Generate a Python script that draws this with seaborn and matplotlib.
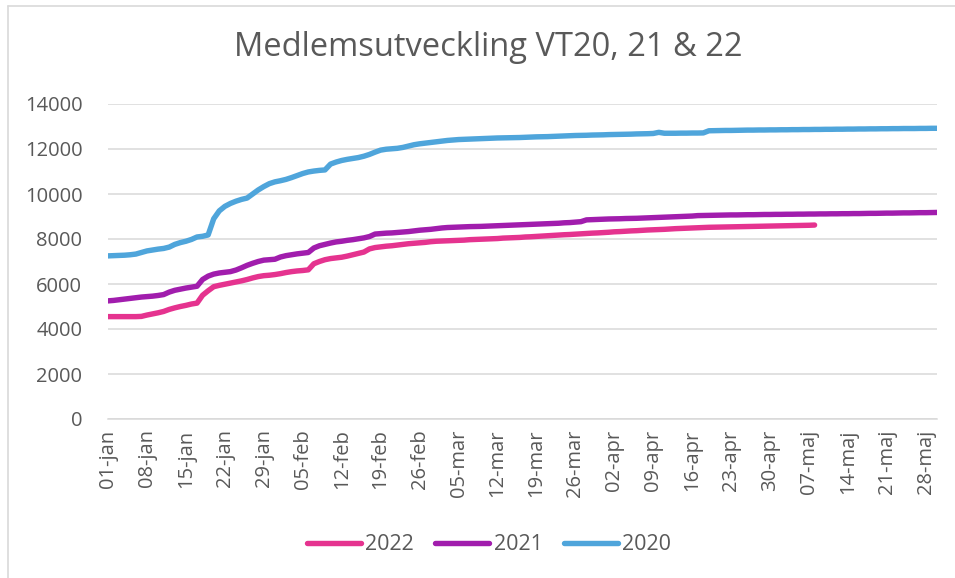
import matplotlib
matplotlib.use("Agg")
import matplotlib.pyplot as plt
import seaborn as sns
import pandas as pd
import numpy as np
from matplotlib.lines import Line2D

# ---------------- data ----------------
months = ["jan", "feb", "mar", "apr", "maj"]
month_days = [31, 28, 31, 30, 30]
dates = [f"{d:02d}-{m}" for m, n in zip(months, month_days) for d in range(1, n + 1)]

v2020 = [7250, 7260, 7270, 7280, 7300, 7330, 7400, 7470, 7510, 7550,
         7580, 7640, 7760, 7840, 7900, 7980, 8090, 8120, 8180, 8900,
         9250, 9450, 9580, 9680, 9760, 9820, 10000, 10180, 10330, 10460,
         10540, 10590, 10650, 10730, 10820, 10910, 10980, 11020, 11050, 11070,
         11330, 11420, 11490, 11540, 11580, 11620, 11680, 11760, 11860, 11950,
         11990, 12010, 12030, 12070, 12130, 12190, 12230, 12260, 12290, 12320,
         12350, 12380, 12400, 12420, 12430, 12440, 12450, 12460,
         12470, 12480, 12490, 12495, 12500, 12505, 12510, 12520, 12530, 12540, 12545, 12550,
         12560, 12570, 12580, 12590, 12600, 12605, 12610, 12620, 12625, 12630,
         12640, 12645, 12650, 12655, 12660, 12670, 12675, 12680, 12690,
         12740, 12700, 12700, 12700, 12705, 12705, 12710, 12710, 12715,
         12810, 12815, 12820, 12825, 12825, 12830, 12835, 12840, 12840, 12845,
         12845, 12850, 12850, 12855, 12855, 12860, 12860, 12865, 12865, 12870,
         12870, 12875, 12875, 12880, 12880, 12885, 12885, 12890, 12890, 12895,
         12895, 12900, 12900, 12905, 12905, 12910, 12910, 12910, 12915, 12915,
         12920, 12920]

v2021 = [5250, 5270, 5300, 5330, 5360, 5390, 5420, 5440, 5460, 5490,
         5530, 5640, 5720, 5770, 5820, 5860, 5900, 6200, 6350, 6440,
         6490, 6520, 6550, 6620, 6720, 6830, 6920, 7000, 7060, 7080,
         7100, 7200, 7260, 7300, 7340, 7370, 7400, 7600, 7700, 7760,
         7820, 7870, 7900, 7940, 7970, 8010, 8050, 8110, 8220, 8240,
         8260, 8270, 8290, 8310, 8330, 8360, 8390, 8410, 8430, 8460,
         8490, 8510, 8520, 8530, 8540, 8550, 8555, 8560,
         8570, 8580, 8590, 8600, 8610, 8620, 8630, 8640, 8650, 8660,
         8670, 8680, 8690, 8700, 8720, 8730, 8750, 8770,
         8850,
         8860, 8870, 8880, 8890, 8895, 8900, 8910, 8915, 8920, 8930,
         8940, 8950, 8960, 8970, 8980, 8990, 9000, 9010, 9020, 9040,
         9045, 9050, 9055, 9060, 9065, 9070, 9070, 9075, 9080, 9080,
         9085, 9090, 9090, 9095, 9095, 9100, 9100, 9105, 9105, 9110, 9110,
         9115, 9115, 9120, 9120, 9125, 9125, 9130, 9130, 9135, 9140,
         9140, 9145, 9150, 9150, 9155, 9160, 9160, 9165, 9170, 9170,
         9175, 9180]

v2022 = [4550, 4550, 4550, 4550, 4550, 4550, 4560, 4620, 4670, 4720,
         4780, 4870, 4940, 5000, 5050, 5110, 5150, 5500, 5700, 5880,
         5940, 5990, 6040, 6090, 6140, 6200, 6270, 6330, 6370, 6390,
         6420, 6460, 6510, 6550, 6580, 6600, 6630, 6900, 7000, 7080,
         7130, 7160, 7190, 7240, 7300, 7360, 7420, 7560, 7620, 7650,
         7680, 7700, 7730, 7760, 7790, 7810, 7830, 7850, 7880, 7900,
         7910, 7920, 7930, 7940, 7950, 7970, 7980, 7990,
         8000, 8010, 8020, 8040, 8050, 8060, 8070, 8090, 8100,
         8115, 8130, 8145, 8160, 8175, 8190, 8200, 8215, 8230, 8245,
         8260, 8270, 8285, 8300, 8320,
         8330, 8345, 8360, 8370, 8385, 8400, 8410, 8420, 8430, 8445,
         8460, 8470, 8480, 8490, 8500, 8510, 8520,
         8525, 8530, 8535, 8540, 8545, 8550, 8555, 8560, 8565, 8570,
         8575, 8580, 8585, 8590, 8595, 8600, 8605, 8610, 8620]

series_names = ["2022", "2021", "2020"]
series_values = [v2022, v2021, v2020]
colors = {"2022": "#E5338F", "2021": "#A11DAD", "2020": "#4FA5DB"}
yticks = [0, 2000, 4000, 6000, 8000, 10000, 12000, 14000]

# ---------------- build long table ----------------
rows = []
for name, vals in zip(series_names, series_values):
    for i, v in enumerate(vals):
        rows.append({"day": i, "date": dates[i], "value": v, "year": name})
df = pd.DataFrame(rows)

# ---------------- plot ----------------
sns.set_theme(style="white")
plt.rcParams["font.family"] = ["Open Sans", "DejaVu Sans"]
txt = "#595959"

fig = plt.figure(figsize=(9.55, 5.78), dpi=100)
ax = fig.add_axes([108 / 955, 1 - 419 / 578, (937 - 108) / 955, (419 - 104) / 578])

sns.lineplot(data=df, x="day", y="value", hue="year", hue_order=series_names,
             palette=colors, linewidth=3.9, ax=ax, legend=False,
             solid_capstyle="round", solid_joinstyle="round")

n_days = max(len(v) for v in series_values)
ax.set_xlim(0, n_days - 1)
ax.set_ylim(0, 14000)
ax.set_yticks(yticks)
ax.set_yticklabels([str(t) for t in yticks], fontsize=14.5, color=txt)
tick_pos = list(range(0, n_days, 7))
ax.set_xticks(tick_pos)
ax.set_xticklabels([dates[i] for i in tick_pos], rotation=90, fontsize=14.5, color=txt)
ax.set_xlabel("")
ax.set_ylabel("")

ax.grid(axis="y", color="#D9D9D9", linewidth=1.1)
ax.grid(axis="x", visible=False)
ax.set_axisbelow(True)
for s in ["top", "right", "left"]:
    ax.spines[s].set_visible(False)
ax.spines["bottom"].set_color("#D9D9D9")
ax.spines["bottom"].set_linewidth(1.1)
ax.tick_params(axis="x", which="major", direction="out", length=5, width=1,
               color="#D9D9D9", pad=2.5)
ax.tick_params(axis="y", length=0, pad=18.5)

fig.text(488 / 955, 1 - 48 / 578, "Medlemsutveckling VT20, 21 & 22", ha="center", va="center",
         fontsize=23.5, color=txt, fontweight="normal")

handles = [Line2D([0], [0], color=colors[n], lw=3.9, solid_capstyle="round") for n in series_names]
fig.legend(handles, series_names, loc="center", bbox_to_anchor=(489 / 955, 1 - 545 / 578),
           ncol=3, frameon=False, fontsize=15.5, handlelength=2.5, handletextpad=0.2,
           columnspacing=1.0, labelcolor=txt)

# chart-area border (top and left visible)
fig.add_artist(Line2D([7.5 / 955, 955 / 955], [1 - 5.5 / 578, 1 - 5.5 / 578],
                      color="#D9D9D9", lw=1.2, transform=fig.transFigure))
fig.add_artist(Line2D([7.5 / 955, 7.5 / 955], [0, 1 - 5.5 / 578],
                      color="#D9D9D9", lw=1.2, transform=fig.transFigure))

fig.savefig("out.png", dpi=100, facecolor="white")
